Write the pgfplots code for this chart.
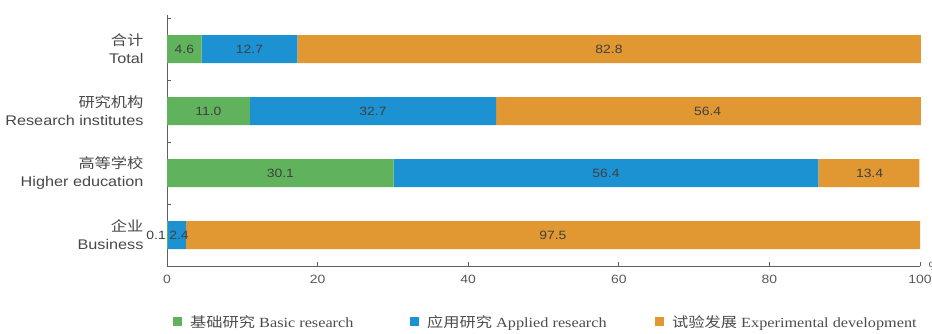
\documentclass[border=0pt]{standalone}
\usepackage{fontspec}
\setmainfont[FakeStretch=1.16]{Liberation Sans}
\newfontfamily\cjk[FakeStretch=1.16]{Noto Sans CJK SC}
\newfontfamily\lserif[FakeStretch=1.16]{Liberation Serif}
\usepackage{pgfplots}
\pgfplotsset{compat=1.18}
\definecolor{cgreen}{RGB}{96,178,92}
\definecolor{cblue}{RGB}{28,146,210}
\definecolor{corange}{RGB}{225,152,50}
\definecolor{axgray}{RGB}{95,95,95}
\begin{document}
\begin{tikzpicture}
\useasboundingbox (0,0) rectangle (932pt,333pt);
\begin{axis}[
  at={(167pt,67pt)}, anchor=south west,
  scale only axis, width=753pt, height=251pt,
  xbar stacked, bar width=28pt,
  xmin=0, xmax=100, ymin=-0.5, ymax=3.55,
  axis x line*=bottom, axis y line*=left,
  axis line style={axgray, line width=0.9pt, -},
  xtick={0,20,40,60,80,100},
  ytick={0.5,1.5,2.5,3.5}, yticklabels={},
  tick align=inside, major tick length=4pt,
  tick style={axgray, line width=0.8pt},
  ticklabel style={font=\fontsize{12}{14}\selectfont, text=black!65},
  /pgf/number format/assume math mode=true,
  xticklabel style={yshift=-6pt},
  every axis plot post/.append style={draw=none, legend image code/.code={\fill[##1] (0pt,-4.5pt) rectangle (9pt,4.5pt);}},
  legend columns=3,
  legend style={draw=none, fill=none, at={(0.008,-0.223)}, anchor=west, inner sep=0pt,
    nodes={inner sep=0pt}, cells={anchor=west},
    font=\lserif\fontsize{14}{16}\selectfont, text=black!70,
    /tikz/every odd column/.append style={column sep=8pt}},
  clip=false,
]
\addplot[fill=cgreen] coordinates {(0.1,0) (30.1,1) (11.0,2) (4.6,3)};
\addlegendentry{\makebox[220pt][l]{{\cjk 基础研究} Basic research}}
\addplot[fill=cblue] coordinates {(2.4,0) (56.4,1) (32.7,2) (12.7,3)};
\addlegendentry{\makebox[228pt][l]{{\cjk 应用研究} Applied research}}
\addplot[fill=corange] coordinates {(97.5,0) (13.4,1) (56.4,2) (82.8,3)};
\addlegendentry{{\cjk 试验发展} Experimental development}

\coordinate (t1) at (axis cs:2.3,3);
\coordinate (t2) at (axis cs:10.95,3);
\coordinate (t3) at (axis cs:58.7,3);
\coordinate (r1) at (axis cs:5.5,2);
\coordinate (r2) at (axis cs:27.35,2);
\coordinate (r3) at (axis cs:71.8,2);
\coordinate (h1) at (axis cs:15.05,1);
\coordinate (h2) at (axis cs:58.3,1);
\coordinate (h3) at (axis cs:93.3,1);
\coordinate (b1) at (axis cs:0,0);
\coordinate (b2) at (axis cs:1.6,0);
\coordinate (b3) at (axis cs:51.25,0);
\coordinate (c3) at (axis cs:0,3);
\coordinate (c2) at (axis cs:0,2);
\coordinate (c1) at (axis cs:0,1);
\coordinate (c0) at (axis cs:0,0);
\coordinate (pct) at (axis cs:100,-0.5);
\end{axis}
\tikzset{lbl/.style={font=\fontsize{12}{14}\selectfont, text=black!75}}
\node[lbl] at (t1) {4.6};
\node[lbl] at (t2) {12.7};
\node[lbl] at (t3) {82.8};
\node[lbl] at (r1) {11.0};
\node[lbl] at (r2) {32.7};
\node[lbl] at (r3) {56.4};
\node[lbl] at (h1) {30.1};
\node[lbl] at (h2) {56.4};
\node[lbl] at (h3) {13.4};
\node[lbl, anchor=east, inner sep=1pt] at (b1) {0.1};
\node[lbl] at (b2) {2.4};
\node[lbl] at (b3) {97.5};
\tikzset{cat/.style={anchor=east, align=right, font=\fontsize{14}{18}\selectfont, text=black!72, xshift=-20pt}}
\node[cat] at (c3) {{\cjk 合计}\\Total};
\node[cat] at (c2) {{\cjk 研究机构}\\Research institutes};
\node[cat] at (c1) {{\cjk 高等学校}\\Higher education};
\node[cat] at (c0) {{\cjk 企业}\\Business};
\node[anchor=west, font=\fontsize{12}{14}\selectfont, text=black!65, xshift=5pt] at (pct) {\%};
\end{tikzpicture}
\end{document}
